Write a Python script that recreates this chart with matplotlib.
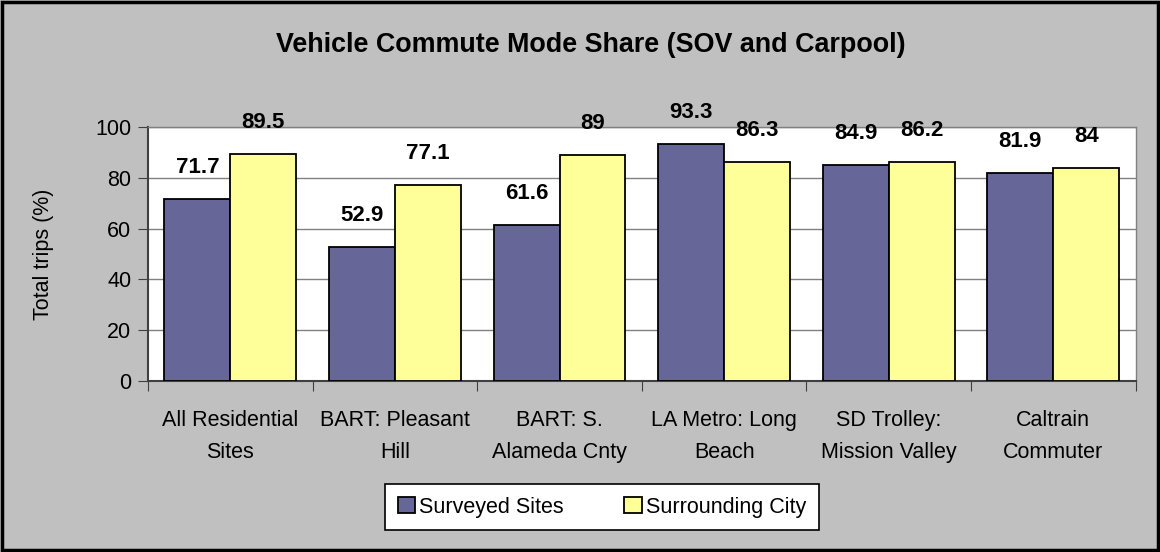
import numpy as np
import matplotlib.pyplot as plt
from matplotlib.patches import Rectangle

plt.rcParams['font.family'] = ['Liberation Sans', 'DejaVu Sans']

categories = ["All Residential\nSites", "BART: Pleasant\nHill", "BART: S.\nAlameda Cnty",
              "LA Metro: Long\nBeach", "SD Trolley:\nMission Valley", "Caltrain\nCommuter"]
surveyed = [71.7, 52.9, 61.6, 93.3, 84.9, 81.9]
surrounding = [89.5, 77.1, 89, 86.3, 86.2, 84]
surveyed_lbl = ["71.7", "52.9", "61.6", "93.3", "84.9", "81.9"]
surrounding_lbl = ["89.5", "77.1", "89", "86.3", "86.2", "84"]

fig = plt.figure(figsize=(11.6, 5.52), dpi=100)
fig.patch.set_facecolor("#C0C0C0")
ax = fig.add_axes([0.1276, 0.3098, 0.8514, 0.4602])
ax.set_facecolor("white")

x = np.arange(len(categories))
w = 0.4
b1 = ax.bar(x - w/2, surveyed, w, color="#666699", edgecolor="black", linewidth=1.3,
            label="Surveyed Sites", zorder=3)
b2 = ax.bar(x + w/2, surrounding, w, color="#FFFF99", edgecolor="black", linewidth=1.3,
            label="Surrounding City", zorder=3)

for bars, lbls in ((b1, surveyed_lbl), (b2, surrounding_lbl)):
    for r, t in zip(bars, lbls):
        ax.annotate(t, (r.get_x() + r.get_width()/2, r.get_height()), xytext=(0, 15),
                    textcoords="offset points", ha="center", va="bottom",
                    fontsize=16, fontweight="bold", annotation_clip=False)

ax.set_xlim(-0.5, len(categories) - 0.5)
ax.set_ylim(0, 100)
ax.set_yticks(np.arange(0, 101, 20))
ax.yaxis.grid(True, color="#808080", linewidth=1, zorder=0)
ax.set_xticks(np.arange(-0.5, len(categories), 1))
ax.set_xticklabels([])
ax.set_xticks(x, minor=True)
ax.set_xticklabels(categories, minor=True, fontsize=15.5, linespacing=1.7)
ax.tick_params(axis="x", which="minor", length=0, pad=21)
ax.tick_params(axis="x", which="major", length=7, color="#404040", direction="out")
ax.tick_params(axis="y", length=7, color="#404040", labelsize=15.5, pad=5)
ax.set_ylabel("Total trips (%)", fontsize=15.5, labelpad=30)

for s in ("left", "bottom"):
    ax.spines[s].set_color("#404040")
    ax.spines[s].set_linewidth(1.5)
for s in ("top", "right"):
    ax.spines[s].set_color("#808080")
    ax.spines[s].set_linewidth(1)

fig.text(0.509, 0.918, "Vehicle Commute Mode Share (SOV and Carpool)", ha="center", va="center",
         fontsize=19.4, fontweight="bold")

leg = fig.legend(loc="center", bbox_to_anchor=(0.519, 0.0815), ncol=2, fontsize=15.5,
                 frameon=True, fancybox=False, edgecolor="black", facecolor="white",
                 handlelength=0.8, handleheight=0.8, handletextpad=0.2, columnspacing=2.8,
                 borderpad=0.6, borderaxespad=0, framealpha=1)
leg.get_frame().set_linewidth(1.2)

fig.patches.append(Rectangle((0.002, 0.003), 0.996, 0.994, transform=fig.transFigure,
                             fill=False, edgecolor="black", linewidth=2.5))

fig.savefig("out.png", dpi=100, facecolor=fig.get_facecolor())
